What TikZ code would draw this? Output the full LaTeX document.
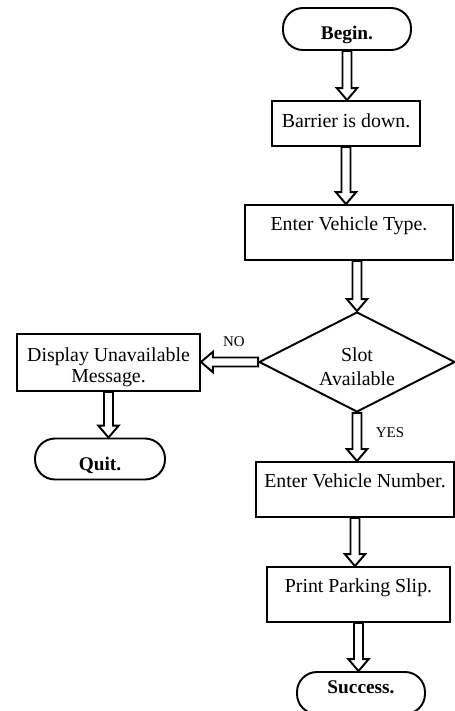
\documentclass[tikz,border=0pt]{standalone}
\usepackage{fontspec}
\setmainfont{Liberation Serif}
\usetikzlibrary{shapes.geometric, calc}

\begin{document}
\begin{tikzpicture}[x=0.02cm, y=-0.02cm, font=\fontsize{11.3}{13.5}\selectfont]
\tikzstyle{term}=[draw, line width=1.1pt, rectangle, rounded corners=0.4cm, inner sep=0pt, minimum width=2.56cm, minimum height=0.84cm, font=\fontsize{11}{13}\selectfont\bfseries]
\tikzstyle{box}=[draw, line width=1.1pt, rectangle, minimum height=1.1cm, text height=8pt, text depth=10pt]
\tikzstyle{decision}=[draw, line width=1.1pt, diamond, aspect=2, minimum width=3.92cm, minimum height=2cm, inner sep=0pt, align=center]
\tikzstyle{lbl}=[font=\fontsize{8.5}{10}\selectfont]
\tikzstyle{every edge}=[draw, line width=1.1pt, to path={
  let \p1=(\tikztostart), \p2=(\tikztotarget),
      \n1={veclen(\x2-\x1,\y2-\y1)}, \n2={(\x2-\x1)/\n1}, \n3={(\y2-\y1)/\n1} in
  ({\x1-\n3*2.55pt},{\y1+\n2*2.55pt})
  -- ({\x2-\n2*6.8pt-\n3*2.55pt},{\y2-\n3*6.8pt+\n2*2.55pt})
  -- ({\x2-\n2*6.8pt-\n3*5.8pt},{\y2-\n3*6.8pt+\n2*5.8pt})
  -- (\x2,\y2)
  -- ({\x2-\n2*6.8pt+\n3*5.8pt},{\y2-\n3*6.8pt-\n2*5.8pt})
  -- ({\x2-\n2*6.8pt+\n3*2.55pt},{\y2-\n3*6.8pt-\n2*2.55pt})
  -- ({\x1+\n3*2.55pt},{\y1-\n2*2.55pt}) -- cycle}]

\useasboundingbox (0,0) rectangle (454,711);

\node[term] at (347,29) (begin) {\rule{0pt}{14pt}Begin.};
\node[box, minimum width=2.96cm, minimum height=0.9cm, text depth=3.8pt] at (346,123.5) (barrier) {Barrier is down.};
\node[box, minimum width=4.16cm] at (349,232.5) (etype) {Enter Vehicle Type.};
\node[decision] at (357,362) (slot) {\rule{0pt}{13.2pt}Slot\\Available};
\node[draw, line width=1.1pt, inner ysep=0pt, minimum width=3.66cm, minimum height=1.14cm, align=center, font=\fontsize{11.3}{12}\selectfont] at (108.5,362.5) (display) {\rule{0pt}{13.6pt}Display Unavailable\\Message.};
\node[term, minimum width=2.6cm, minimum height=0.82cm] at (100,459) (quit) {\rule{0pt}{15.3pt}Quit.};
\node[box, minimum width=3.96cm] at (355,489.5) (vnum) {Enter Vehicle Number.};
\node[box, minimum width=3.66cm] at (358.5,594.5) (slip) {Print Parking Slip.};
\node[term] at (361,693) (success) {\rule[-6.8pt]{0pt}{6.8pt}Success.};
\node[lbl] at (234,342) (no) {NO};
\node[lbl] at (390,433) (yes) {YES};

\draw (begin.south) edge (begin.south |- barrier.north)
      (barrier.south) edge (barrier.south |- etype.north)
      (etype.south -| slot.north) edge (slot.north);
\draw (slot.west) edge (slot.west -| display.east)
      (slot.south) edge (slot.south |- vnum.north);
\draw (display.south) edge (display.south |- quit.north);
\draw (vnum.south) edge (vnum.south |- slip.north)
      (slip.south) edge (slip.south |- success.north);
\end{tikzpicture}
\end{document}
